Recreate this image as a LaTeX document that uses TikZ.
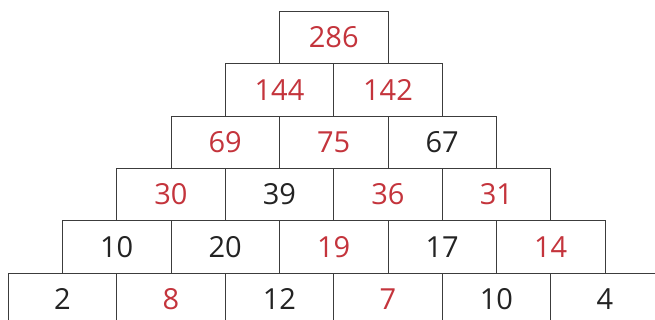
\documentclass[tikz,border=0pt]{standalone}
\usepackage{fontspec}
\setmainfont{Open Sans}
\definecolor{numred}{RGB}{196,52,60}
\definecolor{numblack}{RGB}{35,35,35}
\definecolor{boxline}{RGB}{60,60,60}
\begin{document}
\begin{tikzpicture}[x=1pt,y=-1pt,
  cell/.style={draw=boxline,line width=0.9pt,minimum width=108.5pt,minimum height=52.3pt,inner sep=0pt,anchor=north west,font=\fontsize{29}{30}\selectfont},
  rn/.style={text=numred},
  bn/.style={text=numblack}]
\useasboundingbox (0,0) rectangle (655,320);
\clip (0,0) rectangle (655,320);
\fill[white] (0,0) rectangle (655,320);
\def\W{108.5}\def\H{52.3}
% row 0
\node[cell,rn] (c00) at (279,11) {286};
% row 1
\node[cell,rn] (c10) at (279-54.25,11+\H) {144};
\node[cell,rn] (c11) at (279-54.25+\W,11+\H) {142};
% row 2
\node[cell,rn] (c20) at (279-2*54.25,11+2*\H) {69};
\node[cell,rn] (c21) at (279-2*54.25+\W,11+2*\H) {75};
\node[cell,bn] (c22) at (279-2*54.25+2*\W,11+2*\H) {67};
% row 3
\node[cell,rn] (c30) at (279-3*54.25,11+3*\H) {30};
\node[cell,bn] (c31) at (279-3*54.25+\W,11+3*\H) {39};
\node[cell,rn] (c32) at (279-3*54.25+2*\W,11+3*\H) {36};
\node[cell,rn] (c33) at (279-3*54.25+3*\W,11+3*\H) {31};
% row 4
\node[cell,bn] (c40) at (279-4*54.25,11+4*\H) {10};
\node[cell,bn] (c41) at (279-4*54.25+\W,11+4*\H) {20};
\node[cell,rn] (c42) at (279-4*54.25+2*\W,11+4*\H) {19};
\node[cell,bn] (c43) at (279-4*54.25+3*\W,11+4*\H) {17};
\node[cell,rn] (c44) at (279-4*54.25+4*\W,11+4*\H) {14};
% row 5
\node[cell,bn] (c50) at (279-5*54.25,11+5*\H) {2};
\node[cell,rn] (c51) at (279-5*54.25+\W,11+5*\H) {8};
\node[cell,bn] (c52) at (279-5*54.25+2*\W,11+5*\H) {12};
\node[cell,rn] (c53) at (279-5*54.25+3*\W,11+5*\H) {7};
\node[cell,bn] (c54) at (279-5*54.25+4*\W,11+5*\H) {10};
\node[cell,bn] (c55) at (279-5*54.25+5*\W,11+5*\H) {4};
\end{tikzpicture}
\end{document}
